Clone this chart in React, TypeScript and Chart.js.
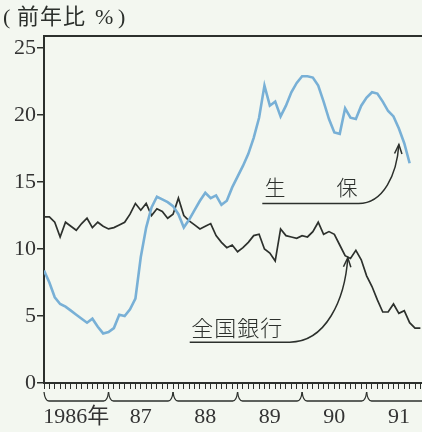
import React, { useEffect, useRef } from 'react';
import { Chart, registerables } from 'chart.js';

Chart.register(...registerables);

// ---- data (monthly, Jan 1986 = index 0) ----
const yearLabels = ['1986年', '87', '88', '89', '90', '91'];
const monthsPerYear = 12;
const yTickValues = [0, 5, 10, 15, 20, 25];

// 生保 (life insurance), % y/y
const lifeInsurance = [
  8.4, 7.5, 6.4, 5.9, 5.7, 5.4, 5.1, 4.8, 4.5, 4.8, 4.2, 3.7,
  3.8, 4.1, 5.1, 5.0, 5.5, 6.3, 9.4, 11.6, 13.1, 13.9, 13.7, 13.5,
  13.2, 12.6, 11.6, 12.2, 12.9, 13.6, 14.2, 13.8, 14.0, 13.3, 13.6, 14.6,
  15.4, 16.2, 17.1, 18.3, 19.8, 22.2, 20.7, 21.0, 19.9, 20.7, 21.7, 22.4,
  22.9, 22.9, 22.8, 22.2, 21.0, 19.7, 18.7, 18.6, 20.5, 19.8, 19.7, 20.7,
  21.3, 21.7, 21.6, 21.0, 20.3, 19.9, 19.0, 17.9, 16.4,
];

// 全国銀行 (all banks), % y/y
const allBanks = [
  12.4, 12.4, 12.0, 10.9, 12.0, 11.7, 11.4, 11.9, 12.3, 11.6, 12.0, 11.7,
  11.5, 11.6, 11.8, 12.0, 12.6, 13.4, 12.9, 13.4, 12.5, 13.0, 12.8, 12.3,
  12.6, 13.8, 12.5, 12.1, 11.8, 11.5, 11.7, 11.9, 11.0, 10.5, 10.1, 10.3,
  9.8, 10.1, 10.5, 11.0, 11.1, 10.0, 9.7, 9.1, 11.5, 11.0, 10.9, 10.8,
  11.0, 10.9, 11.3, 12.0, 11.1, 11.3, 11.1, 10.3, 9.5, 9.3, 9.9, 9.2,
  8.0, 7.2, 6.2, 5.3, 5.3, 5.9, 5.2, 5.4, 4.5, 4.1, 4.1,
];

const xMax = 70.3;
const yMax = 25.9;

// annotation anchors in data coordinates [month index, value]
const annotations = [
  { text: '生　　保', textAt: [41.0, 14.6], lineFrom: [40.6, 13.4], lineTo: [58.5, 13.4], tip: [66.0, 17.8], size: 21, spacing: 3 },
  { text: '全国銀行', textAt: [27.4, 4.1], lineFrom: [27.1, 3.05], lineTo: [45.7, 3.05], tip: [56.5, 9.35], size: 22, spacing: 1 },
];

// unit title, drawn in pieces: [text, x]
const titleParts: [string, number][] = [['(', 3], ['前年比', 17], ['%', 95], [')', 118]];

const SERIF = "'Liberation Serif', 'Noto Sans CJK JP', serif";
const CJK = "'Noto Sans CJK JP', sans-serif";
const INK = '#2c302c';

const bgPlugin = {
  id: 'bg',
  beforeDraw(chart: any) {
    const { ctx, width, height } = chart;
    ctx.save();
    ctx.fillStyle = '#f3f7f0';
    ctx.fillRect(0, 0, width, height);
    ctx.restore();
  },
};

const decorPlugin = {
  id: 'decor',
  afterDraw(chart: any) {
    const { ctx, chartArea } = chart;
    const xs = chart.scales.x;
    const ys = chart.scales.y;
    ctx.save();
    ctx.strokeStyle = INK;
    ctx.fillStyle = INK;

    // top frame line
    ctx.lineWidth = 2;
    ctx.beginPath();
    ctx.moveTo(chartArea.left, chartArea.top);
    ctx.lineTo(chart.width, chartArea.top);
    ctx.stroke();

    // year braces
    ctx.lineWidth = 1.3;
    const yTop = chartArea.bottom + 9;
    const yBot = chartArea.bottom + 18;
    for (let k = 0; k < yearLabels.length + 1; k++) {
      const x0 = xs.getPixelForValue(k * monthsPerYear);
      const x1 = xs.getPixelForValue((k + 1) * monthsPerYear);
      ctx.beginPath();
      ctx.moveTo(x0, yTop);
      ctx.quadraticCurveTo(x0 + 1, yBot, x0 + 5, yBot);
      ctx.lineTo(x1 - 5, yBot);
      ctx.quadraticCurveTo(x1 - 1, yBot, x1, yTop);
      ctx.stroke();
    }

    // title
    ctx.textBaseline = 'middle';
    ctx.textAlign = 'left';
    for (const [t, x] of titleParts) {
      ctx.font = `22px ${SERIF}`;
      (ctx as any).letterSpacing = t.length > 1 ? '1px' : '0px';
      ctx.fillText(t, x, 18);
    }
    (ctx as any).letterSpacing = '0px';

    // annotations
    for (const a of annotations) {
      const px = (p: number[]) => [xs.getPixelForValue(p[0]), ys.getPixelForValue(p[1])];
      const [tx, ty] = px(a.textAt);
      const [fx, fy] = px(a.lineFrom);
      const [lx, ly] = px(a.lineTo);
      const [px3, py3] = px(a.tip);
      ctx.font = `300 ${a.size}px ${CJK}`;
      (ctx as any).letterSpacing = `${a.spacing}px`;
      ctx.fillText(a.text, tx, ty);
      (ctx as any).letterSpacing = '0px';

      const dx = px3 - lx;
      const dy = py3 - ly;
      const c1x = lx + 0.62 * dx, c1y = ly;
      const c2x = px3 - 0.05 * dx, c2y = ly + 0.5 * dy;
      ctx.lineWidth = 1.5;
      ctx.beginPath();
      ctx.moveTo(fx, fy);
      ctx.lineTo(lx, ly);
      ctx.bezierCurveTo(c1x, c1y, c2x, c2y, px3, py3);
      ctx.stroke();

      // arrowhead
      let ux = px3 - c2x, uy = py3 - c2y;
      const len = Math.hypot(ux, uy) || 1;
      ux /= len; uy /= len;
      const arm = 10, ang = 0.38;
      const rot = (s: number) => [
        px3 - arm * (ux * Math.cos(s) - uy * Math.sin(s)),
        py3 - arm * (ux * Math.sin(s) + uy * Math.cos(s)),
      ];
      const [a1x, a1y] = rot(ang);
      const [a2x, a2y] = rot(-ang);
      ctx.beginPath();
      ctx.moveTo(a1x, a1y);
      ctx.lineTo(px3, py3);
      ctx.lineTo(a2x, a2y);
      ctx.stroke();
    }
    ctx.restore();
  },
};

export default function App() {
  const ref = useRef<HTMLCanvasElement | null>(null);

  useEffect(() => {
    const canvas = ref.current;
    if (!canvas) return;
    const monthTicks: number[] = [];
    for (let m = 0; m <= Math.floor(xMax); m++) monthTicks.push(m);
    const labelAt = (v: number) => {
      const k = (v - monthsPerYear / 2) / monthsPerYear;
      return Number.isInteger(k) && k >= 0 && k < yearLabels.length ? yearLabels[k] : '';
    };

    const chart = new Chart(canvas, {
      type: 'line',
      data: {
        datasets: [
          {
            label: '生保',
            data: lifeInsurance.map((v, i) => ({ x: i, y: v })),
            borderColor: '#78b0d6',
            borderWidth: 2.6,
            pointRadius: 0,
            tension: 0,
            fill: false,
          },
          {
            label: '全国銀行',
            data: allBanks.map((v, i) => ({ x: i, y: v })),
            borderColor: '#2d312d',
            borderWidth: 1.7,
            pointRadius: 0,
            tension: 0,
            fill: false,
          },
        ],
      },
      options: {
        animation: false,
        responsive: false,
        maintainAspectRatio: false,
        layout: { padding: { top: 36, left: 0, right: 0, bottom: 0 } },
        plugins: {
          legend: { display: false },
          tooltip: { enabled: false },
          title: { display: false },
        },
        scales: {
          x: {
            type: 'linear',
            min: 0,
            max: xMax,
            afterBuildTicks: (s: any) => {
              s.ticks = monthTicks.map((v) => ({ value: v }));
            },
            afterFit: (s: any) => {
              s.height = 49;
              s.paddingRight = 0;
              s.paddingLeft = 0;
            },
            grid: { drawOnChartArea: false, drawTicks: true, tickLength: 6, color: INK, lineWidth: 1 },
            border: { display: true, color: INK, width: 2 },
            ticks: {
              autoSkip: false,
              maxRotation: 0,
              minRotation: 0,
              padding: 15,
              color: '#333',
              font: { family: SERIF, size: 22 },
              callback: (v: any) => labelAt(Number(v)),
            },
          },
          y: {
            type: 'linear',
            min: 0,
            max: yMax,
            afterBuildTicks: (s: any) => {
              s.ticks = yTickValues.map((v) => ({ value: v }));
            },
            afterFit: (s: any) => {
              s.width = 44;
              s.paddingTop = 0;
              s.paddingBottom = 0;
            },
            grid: { drawOnChartArea: false, drawTicks: true, tickLength: 7, color: INK, lineWidth: 1.5 },
            border: { display: true, color: INK, width: 2 },
            ticks: {
              padding: 1,
              color: '#333',
              font: { family: SERIF, size: 22 },
              callback: (v: any) => String(v),
            },
          },
        },
      },
      plugins: [bgPlugin, decorPlugin],
    } as any);

    return () => chart.destroy();
  }, []);

  return (
    <div style={{ position: 'absolute', left: 0, top: 0, width: 422, height: 432 }}>
      <canvas ref={ref} width={422} height={432} style={{ display: 'block' }} />
    </div>
  );
}
